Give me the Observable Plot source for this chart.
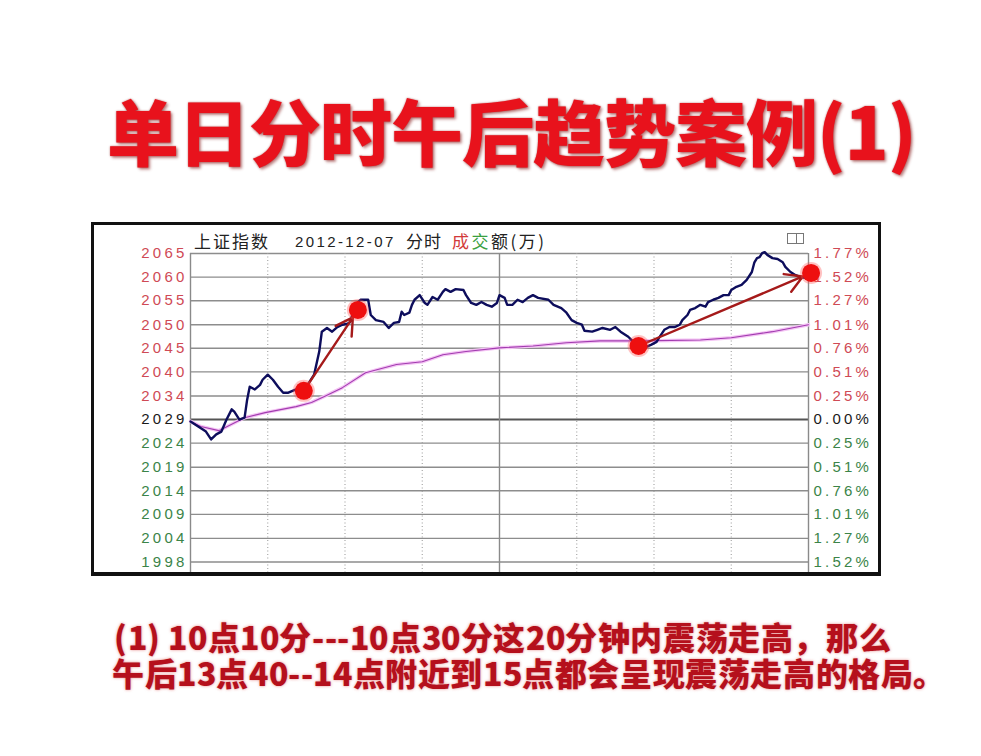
<!DOCTYPE html>
<html><head><meta charset="utf-8">
<script src="https://cdn.jsdelivr.net/npm/d3@7"></script>
<script src="https://cdn.jsdelivr.net/npm/@observablehq/plot@0.6"></script>
<style>
@font-face{font-family:"CapCJK";font-weight:900;src:local("Noto Sans CJK SC Black"),local("NotoSansCJKsc-Black"),local("Noto Sans CJK SC Bold"),local("NotoSansCJKsc-Bold");ascent-override:90%;descent-override:15%;line-gap-override:0%;}
html,body{margin:0;padding:0;background:#fff;}
body{width:981px;height:756px;position:relative;overflow:hidden;font-family:"Noto Sans CJK SC","Noto Sans",sans-serif;}
#title{position:absolute;left:107px;top:93px;font-size:72px;line-height:72px;font-weight:900;color:#e8121c;white-space:nowrap;letter-spacing:-1px;
  text-shadow:0 0 2px rgba(140,0,0,0.6),2px 2px 3px rgba(120,0,0,0.45);}
#frame{position:absolute;left:91px;top:222px;width:790px;height:354px;box-sizing:border-box;border:3px solid #111;border-bottom-width:4px;background:#fff;}
#chart{position:absolute;left:0;top:0;}
.hdr{position:absolute;top:7px;line-height:17px;font-size:17px;color:#222;white-space:nowrap;}
.num{font-family:"Liberation Sans",Arial,sans-serif;font-size:15px;letter-spacing:2.4px;}
#icon{position:absolute;left:693px;top:8px;width:15px;height:9px;border:1px solid #777;}
#icon:after{content:"";position:absolute;left:8px;top:0;width:1px;height:9px;background:#777;}
.cap{position:absolute;left:112px;font-family:"CapCJK","Noto Sans CJK SC",sans-serif;font-size:32px;line-height:36px;font-weight:900;color:#b5101c;white-space:nowrap;letter-spacing:0.6px;
  text-shadow:0 0 3px rgba(210,40,40,0.55);}
</style></head>
<body>
<div id="title">单日分时午后趋势案例(1)</div>
<div id="frame">
  <div id="chart"></div>
  <div class="hdr" style="left:100px;letter-spacing:2px;">上证指数</div>
  <div class="hdr num" style="left:201px;top:8px;">2012-12-07</div>
  <div class="hdr" style="left:312px;letter-spacing:1px;">分时</div>
  <div class="hdr" style="left:358px;letter-spacing:2.5px;"><span style="color:#d23a3a">成</span><span style="color:#3aa040">交</span>额(万)</div>
  <div id="icon"></div>
</div>
<div class="cap" style="top:620px;left:114px;">(1) 10点10分---10点30分这20分钟内震荡走高，那么</div>
<div class="cap" style="top:656px;">午后13点40--14点附近到15点都会呈现震荡走高的格局。</div>
<script>
// ---- data ----
// trading minute since 9:30 (0..240, midday break collapsed)
const minutes = [0,3,6,8,10,12,14,16,17,19,21,22,23,25,27,28,30,32,34,36,38,41,44,48,50,51,53,55,57,59,61,62,64,66,69,70,72,75,77,79,81,82,83,85,86,87,89,91,92,94,96,98,99,101,103,106,107,109,111,113,115,117,119,120,122,123,125,127,129,131,133,135,139,141,144,146,148,150,152,153,156,158,160,163,165,167,170,172,174,177,179,181,182,184,186,188,190,191,193,194,196,198,200,201,203,205,207,209,210,212,214,216,218,219,220,221,222,223,224,226,228,230,231,233,235,237,239];
const prices = [2028.9,2027.8,2026.7,2025.0,2026.1,2026.7,2029.3,2031.5,2031.0,2029.3,2029.7,2033.6,2036.4,2035.8,2036.8,2037.9,2039.0,2037.9,2036.4,2035.1,2035.1,2035.8,2035.5,2039.0,2044.0,2048.3,2049.1,2048.3,2049.3,2049.8,2050.0,2050.4,2054.1,2055.2,2055.2,2051.9,2050.8,2050.4,2049.1,2050.2,2050.4,2052.6,2051.9,2052.4,2054.1,2055.2,2056.2,2054.5,2054.1,2055.8,2055.2,2056.9,2057.5,2056.9,2057.5,2057.3,2056.2,2054.5,2054.1,2054.7,2054.1,2053.7,2054.5,2056.2,2055.6,2054.1,2054.1,2055.2,2054.7,2055.6,2056.2,2055.6,2055.2,2054.1,2053.4,2052.4,2050.8,2050.2,2049.8,2048.5,2048.3,2048.7,2049.1,2048.7,2049.3,2048.3,2047.2,2046.1,2045.2,2045.0,2045.5,2046.1,2047.0,2048.7,2049.3,2049.3,2049.8,2050.8,2051.9,2053.0,2053.4,2054.1,2053.7,2054.7,2055.2,2055.6,2056.2,2056.2,2057.3,2058.0,2058.4,2059.5,2061.2,2063.3,2064.2,2064.4,2065.3,2065.5,2064.9,2064.2,2064.0,2063.3,2062.3,2061.2,2060.5,2060.1,2059.9];
const avgMinutes = [0,4,11,21,29,41,47,52,59,68,80,90,98,107,120,133,146,159,175,198,210,226,240];
const avgPrices = [2028.9,2027.8,2026.9,2029.7,2030.8,2032.1,2033.0,2034.3,2036.2,2039.4,2041.2,2041.8,2043.3,2044.0,2044.8,2045.2,2045.9,2046.3,2046.3,2046.5,2047.0,2048.3,2049.8];
const prevClose = 2029.3;
const levels = [2065.2,2060.1,2055.0,2049.8,2044.7,2039.6,2034.4,2029.3,2024.2,2019.0,2013.9,2008.8,2003.6,1998.5];
const leftLabels = ["2065","2060","2055","2050","2045","2040","2034","2029","2024","2019","2014","2009","2004","1998"];
const rightLabels = ["1.77%","1.52%","1.27%","1.01%","0.76%","0.51%","0.25%","0.00%","0.25%","0.51%","0.76%","1.01%","1.27%","1.52%"];
const solidMinutes = [0,120,240];
const dottedMinutes = [30,60,90,150,180,210];
const markMinutes = [44,65,174,241];
const markPrices = [2035.5,2053.0,2045.2,2061.0];
const arrowPairs = [[0,1],[2,3]];

// ---- chart ----
const RED = "#cf4a55", GREEN = "#3b8448", BLACK = "#1a1a1a";
const tone = v => v > prevClose + 0.01 ? RED : (v < prevClose - 0.01 ? GREEN : BLACK);
const priceData = minutes.map((m,i)=>({m, p: prices[i]}));
const avgData = avgMinutes.map((m,i)=>({m, p: avgPrices[i]}));
const markData = markMinutes.map((m,i)=>({m, p: markPrices[i]}));
const arrowData = arrowPairs.map(([a,b])=>({x1: markMinutes[a], y1: markPrices[a], x2: markMinutes[b], y2: markPrices[b]}));

const chart = Plot.plot({
  width: 784, height: 347,
  marginLeft: 96, marginRight: 70, marginTop: 28, marginBottom: 0,
  x: {domain: [0, 240], axis: null},
  y: {domain: [1996.23, 2065.2], axis: null},
  color: {type: "identity"},
  style: {background: "transparent", fontFamily: "'Liberation Sans', Arial, sans-serif", fontSize: "15px", letterSpacing: "3.2px", overflow: "visible"},
  marks: [
    Plot.ruleY(levels.filter(v => v !== prevClose), {stroke: "#8d8d8d", strokeWidth: 1.4}),
    Plot.ruleY([prevClose], {stroke: "#555", strokeWidth: 2}),
    Plot.ruleX(dottedMinutes, {stroke: "#a0a0a0", strokeWidth: 1.1, strokeDasharray: "1,2.5"}),
    Plot.ruleX(solidMinutes, {stroke: "#8a8a8a", strokeWidth: 1.4}),
    Plot.text(levels, {y: d => d, frameAnchor: "left", textAnchor: "end", dx: -3, text: (d,i) => leftLabels[i], fill: d => tone(d)}),
    Plot.text(levels, {y: d => d, frameAnchor: "right", textAnchor: "start", dx: 5, text: (d,i) => rightLabels[i], fill: d => tone(d)}),
    Plot.line(avgData, {x: "m", y: "p", stroke: "#f4c4f4", strokeWidth: 3.5}),
    Plot.line(avgData, {x: "m", y: "p", stroke: "#a23cb0", strokeWidth: 1.1}),
    Plot.line(priceData, {x: "m", y: "p", stroke: "#0d0d5c", strokeWidth: 2.4}),
    Plot.arrow(arrowData, {x1: "x1", y1: "y1", x2: "x2", y2: "y2", stroke: "#a51a1a", strokeWidth: 2.4, insetEnd: 9, headLength: 12}),
    Plot.dot(markData, {x: "m", y: "p", r: 11, fill: "#ff5050", fillOpacity: 0.35}),
    Plot.dot(markData, {x: "m", y: "p", r: 9, fill: "#ee0f0f"})
  ]
});
document.getElementById("chart").appendChild(chart);
</script>
</body></html>
